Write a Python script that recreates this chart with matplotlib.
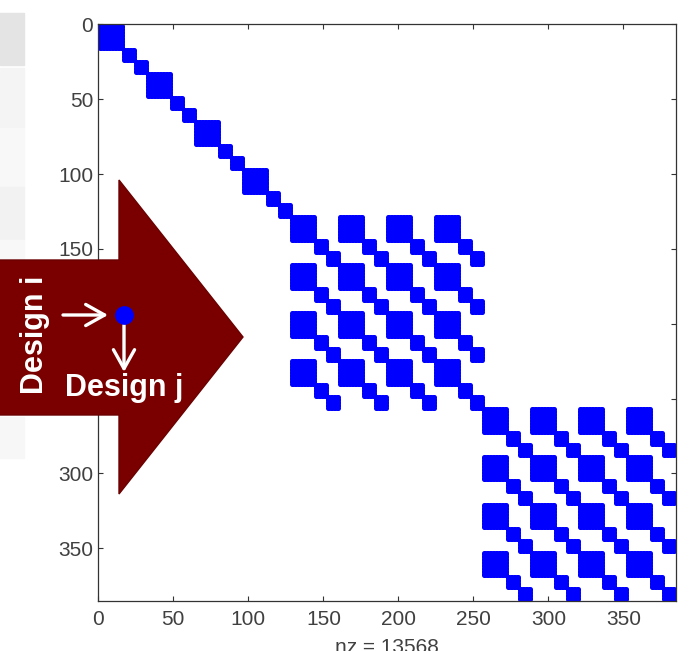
import numpy as np
import matplotlib.pyplot as plt
from matplotlib.patches import Polygon, Rectangle, FancyArrowPatch
from matplotlib.lines import Line2D

# block structure of the sparse matrix
n = 384
group = 32                    # width of one repeating group
sub_blocks = [16, 8, 8]       # diagonal blocks inside each group
diag_groups = [0, 32, 64, 96]  # first section: groups on the diagonal only
coupled_starts = [128, 256]   # sections where all 4x4 groups are filled
coupled_width = 128
nz_label = "nz = 13568"
ticks = [0, 50, 100, 150, 200, 250, 300, 350]

M = np.zeros((n, n), dtype=bool)


def fill_group(r0, c0):
    off = 0
    for s in sub_blocks:
        M[r0 + off:r0 + off + s, c0 + off:c0 + off + s] = True
        off += s


for g in diag_groups:
    fill_group(g, g)
for s0 in coupled_starts:
    for r in range(s0, s0 + coupled_width, group):
        for c in range(s0, s0 + coupled_width, group):
            fill_group(r, c)

rows, cols = np.nonzero(M)

W, H = 693, 651
fig = plt.figure(figsize=(W / 100, H / 100), dpi=100)
plt.rcParams['font.family'] = ['Liberation Sans', 'DejaVu Sans']


def fx(x):
    return x / W


def fy(y):
    return 1 - y / H


# light table stripes from the slide behind the chart
stripes = [(13, 65, '#e4e4e4'), (68, 127, '#f4f4f4'), (128, 187, '#f8f8f8'),
           (187, 240, '#f2f2f2'), (240, 262, '#f8f8f8'), (417, 458, '#f7f7f7')]
for y0, y1, c in stripes:
    fig.patches.append(Rectangle((0, fy(y1)), fx(24), (y1 - y0) / H,
                                 transform=fig.transFigure, color=c, zorder=0))

ax = fig.add_axes([98.3 / W, 1 - 600.7 / H, 577.7 / W, 576.4 / H])
ax.plot(cols + 1, rows + 1, 'o', ms=3.6, mew=0, color='#0000ff')
ax.set_xlim(0, n + 1)
ax.set_ylim(n + 1, 0)
ax.set_xticks(ticks)
ax.set_yticks(ticks)
ax.tick_params(direction='in', top=True, right=True, length=3.6, width=0.8,
               labelsize=15, labelcolor='#404040', color='#333333')
ax.tick_params(axis='x', pad=7)
ax.tick_params(axis='y', pad=3.6)
for sp in ax.spines.values():
    sp.set_color('#333333')
    sp.set_linewidth(0.9)
ax.set_xlabel(nz_label, fontsize=15, color='#404040', labelpad=6)

# big dark red arrow overlay
arrow_px = [(-5, 260), (119, 260), (119, 180), (243, 337), (119, 494),
            (119, 415), (-5, 415)]
fig.patches.append(Polygon([(fx(x), fy(y)) for x, y in arrow_px], closed=True,
                           transform=fig.transFigure, facecolor='#7a0000',
                           edgecolor='#6a0000', lw=1, zorder=5))

fig.add_artist(Line2D([fx(124)], [fy(315)], marker='o', ms=13.5, mew=0,
                      color='#0000ff', transform=fig.transFigure, zorder=7))

for p0, p1 in [((63, 315), (108, 315)), ((124, 325), (124, 372))]:
    fig.add_artist(FancyArrowPatch(
        (fx(p0[0]), fy(p0[1])), (fx(p1[0]), fy(p1[1])),
        transform=fig.transFigure,
        arrowstyle='->, head_length=0.68, head_width=0.38',
        mutation_scale=20, color='white', lw=2.4, shrinkA=0, shrinkB=0,
        zorder=6))

fig.text(fx(124), fy(396), 'Design j', color='white', fontsize=22,
         fontweight='bold', ha='center', va='baseline', zorder=8)
fig.text(fx(35), fy(335), 'Design i', color='white', fontsize=22,
         fontweight='bold', ha='center', va='center', rotation=90, zorder=8)

fig.savefig('out.png', dpi=100)
